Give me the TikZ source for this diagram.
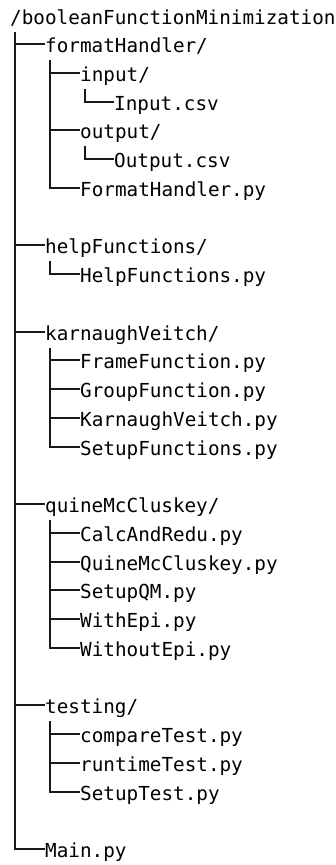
\documentclass[tikz,border=0pt]{standalone}
\usepackage{fontspec}
\setmonofont{DejaVu Sans Mono}
\usetikzlibrary{calc}
\tikzset{
  entry/.style={anchor=west, inner sep=0pt, text height=18pt, text depth=2pt,
    text=black, font=\ttfamily\fontsize{19.3}{23}\selectfont},
  branch/.style={line width=2pt, draw=black!90}
}
\begin{document}
\begin{tikzpicture}[x=1pt,y=1pt]
\useasboundingbox[fill=white] (0,0) rectangle (335,-865);
% entries
\node[entry] (root)   at (10,-16)   {/booleanFunctionMinimization};
\node[entry] (fh)     at (45,-44)   {formatHandler/};
\node[entry] (inp)    at (80,-73)   {input/};
\node[entry] (inpcsv) at (114,-102) {Input.csv};
\node[entry] (out)    at (80,-130)  {output/};
\node[entry] (outcsv) at (114,-159) {Output.csv};
\node[entry] (fhpy)   at (80,-188)  {FormatHandler.py};
\node[entry] (hf)     at (45,-245)  {helpFunctions/};
\node[entry] (hfpy)   at (80,-274)  {HelpFunctions.py};
\node[entry] (kv)     at (45,-332)  {karnaughVeitch/};
\node[entry] (kva)    at (80,-360)  {FrameFunction.py};
\node[entry] (kvb)    at (80,-389)  {GroupFunction.py};
\node[entry] (kvc)    at (80,-418)  {KarnaughVeitch.py};
\node[entry] (kvd)    at (80,-447)  {SetupFunctions.py};
\node[entry] (qm)     at (45,-504)  {quineMcCluskey/};
\node[entry] (qma)    at (80,-533)  {CalcAndRedu.py};
\node[entry] (qmb)    at (80,-562)  {QuineMcCluskey.py};
\node[entry] (qmc)    at (80,-590)  {SetupQM.py};
\node[entry] (qmd)    at (80,-619)  {WithEpi.py};
\node[entry] (qme)    at (80,-648)  {WithoutEpi.py};
\node[entry] (te)     at (45,-705)  {testing/};
\node[entry] (tea)    at (80,-734)  {compareTest.py};
\node[entry] (teb)    at (80,-763)  {runtimeTest.py};
\node[entry] (tec)    at (80,-792)  {SetupTest.py};
\node[entry] (mainpy) at (45,-849)  {Main.py};
% vertical starts below each parent
\foreach \p in {root,fh,inp,out,hf,kv,qm,te}
  \coordinate (v-\p) at ($(\p.west)+(5,-16)$);
% branches
\foreach \c in {fh,hf,kv,qm,te,mainpy} \draw[branch] (v-root) |- (\c.west);
\foreach \c in {inp,out,fhpy} \draw[branch] (v-fh) |- (\c.west);
\draw[branch] (v-inp) |- (inpcsv.west);
\draw[branch] (v-out) |- (outcsv.west);
\draw[branch] (v-hf) |- (hfpy.west);
\foreach \c in {kva,kvb,kvc,kvd} \draw[branch] (v-kv) |- (\c.west);
\foreach \c in {qma,qmb,qmc,qmd,qme} \draw[branch] (v-qm) |- (\c.west);
\foreach \c in {tea,teb,tec} \draw[branch] (v-te) |- (\c.west);
\end{tikzpicture}
\end{document}
